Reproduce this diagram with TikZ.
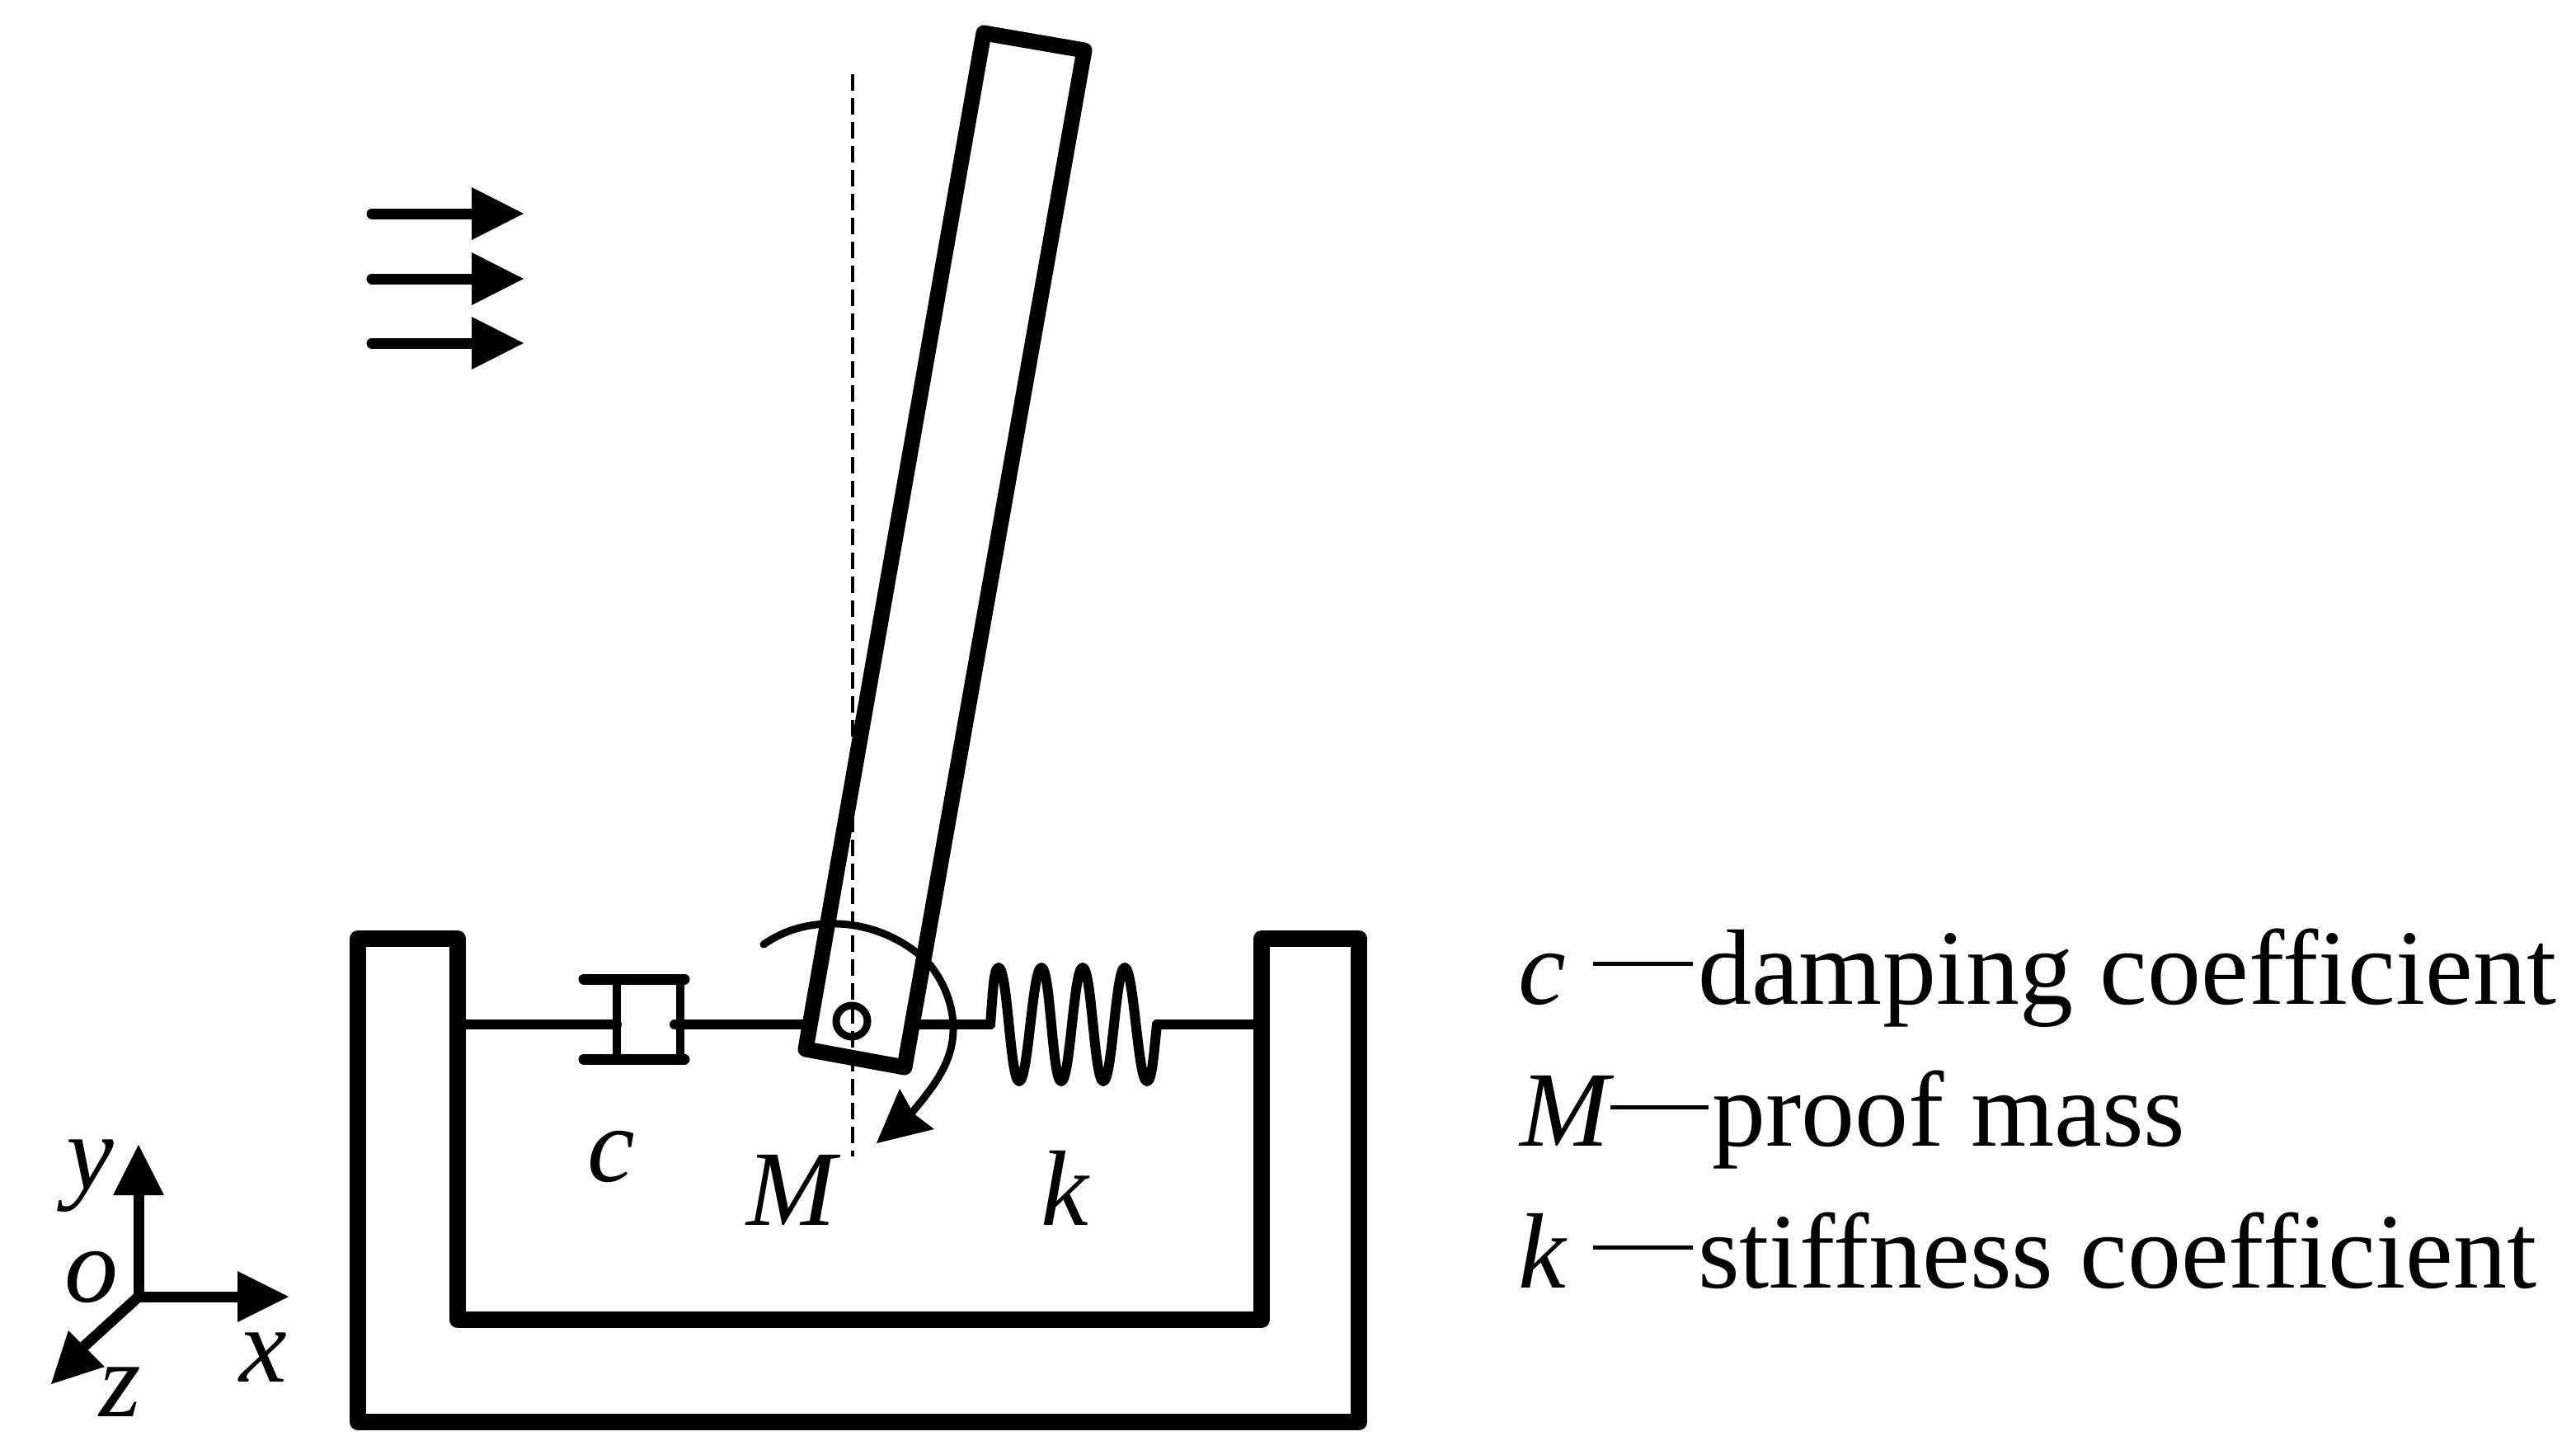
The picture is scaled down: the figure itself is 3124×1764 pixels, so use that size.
\documentclass[tikz,border=0pt]{standalone}
\usepackage{fontspec}
\setmainfont{Liberation Serif}
\tikzset{
  thick frame/.style={line width=20pt,line join=round,line cap=round},
  rod line/.style={line width=19pt,line join=round,line cap=round},
  link/.style={line width=12pt,line cap=round},
  head/.style={fill=black,draw=none},
  label/.style={anchor=base west,inner sep=0pt,font=\fontsize{130}{130}\selectfont},
  mathlabel/.style={label,font=\fontsize{130}{130}\selectfont\itshape},
  dashline/.style={line width=5pt}
}
\begin{document}
\begin{tikzpicture}[x=1pt,y=-1pt]
\useasboundingbox (0,0) rectangle (3124,1764);
% frame
\draw[thick frame] (434,1138) -- (555,1138) -- (555,1600) -- (1530,1600) -- (1530,1138) -- (1648,1138) -- (1648,1724) -- (434,1724) -- cycle;
% reference line
\draw[line width=3.5pt,dash pattern=on 20pt off 9pt] (1034,90) -- (1034,1402);
% rod
\draw[rod line] (1193,40) -- (1315,61) -- (1097,1294) -- (977,1272) -- cycle;
\draw[line width=9pt] (1033,1238) circle (19);
% damper
\draw[link] (561,1242) -- (748,1242);
\draw[line width=10pt] (748,1187) -- (748,1284);
\draw[line width=10pt] (825,1187) -- (825,1284);
\draw[line width=13pt,line cap=round] (708,1187) -- (830,1187);
\draw[line width=13pt,line cap=round] (708,1284) -- (830,1284);
\draw[link] (818,1242) -- (977,1242);
% spring
\draw[link] (1105,1242) -- (1201,1242);
\draw[line width=12pt,line cap=round,line join=round]
  (1201,1242) .. controls (1204,1205) and (1205,1173) .. (1211,1173)
  .. controls (1222,1173) and (1225,1311) .. (1236,1311)
  .. controls (1247,1311) and (1252,1173) .. (1263,1173)
  .. controls (1274,1173) and (1276,1311) .. (1287,1311)
  .. controls (1298,1311) and (1302,1173) .. (1313,1173)
  .. controls (1324,1173) and (1327,1311) .. (1338,1311)
  .. controls (1349,1311) and (1353,1173) .. (1364,1173)
  .. controls (1375,1173) and (1380,1311) .. (1391,1311)
  .. controls (1397,1311) and (1399,1280) .. (1403,1242);
\draw[link] (1403,1242) -- (1530,1242);
% moment arc
\draw[line width=9pt,line cap=round] (926,1145) .. controls (955,1125) and (985,1119) .. (1016,1120)
  .. controls (1070,1122) and (1110,1150) .. (1128,1170)
  .. controls (1148,1195) and (1157,1225) .. (1156,1250)
  .. controls (1155,1290) and (1130,1320) .. (1105,1350);
\fill[head] (1063,1386) -- (1091,1320) -- (1108,1350) -- (1133,1369) -- cycle;
% wind arrows
\foreach \xx/\yy in {2/259,2/338,2/416}{
  \draw[line width=13pt,line cap=round] (449+\xx,\yy) -- (580,\yy);
  \fill[head] (633+\xx,\yy) -- (570+\xx,\yy-32) -- (570+\xx,\yy+32) -- cycle;
}
% axes
\draw[line width=13pt] (168,1578) -- (168,1445);
\fill[head] (168,1388) -- (137,1449) -- (199,1449) -- cycle;
\draw[line width=13pt] (163,1572) -- (292,1572);
\fill[head] (350,1572) -- (288,1541) -- (288,1603) -- cycle;
\draw[line width=13pt,line cap=round] (168,1572) -- (100,1634);
\fill[head] (62,1678) -- (83,1613) -- (110,1640) -- (127,1657) -- cycle;
% axis labels
\node[mathlabel] (ly) at (80,1441) {y};
\node[mathlabel] (lo) at (78,1578) {o};
\node[mathlabel] (lx) at (290,1675) {x};
\node[mathlabel] (lz) at (120,1717) {z};
% element labels
\node[mathlabel] (lc) at (712,1432) {c};
\node[mathlabel] (lM) at (905,1485) {M};
\node[mathlabel] (lk) at (1262,1485) {k};
% legend
\node[mathlabel] (cs) at (1841,1217) {c};
\draw[dashline] (1932,1168) -- (2053,1168);
\node[label] (ct) at (2059,1217) {damping coefficient};
\node[mathlabel] (ms) at (1843,1389) {M};
\draw[dashline] (1953,1342) -- (2072,1342);
\node[label] (mt) at (2076,1389) {proof mass};
\node[mathlabel] (ks) at (1841,1561) {k};
\draw[dashline] (1932,1512) -- (2053,1512);
\node[label] (kt) at (2059,1561) {stiffness coefficient};
\end{tikzpicture}
\end{document}
